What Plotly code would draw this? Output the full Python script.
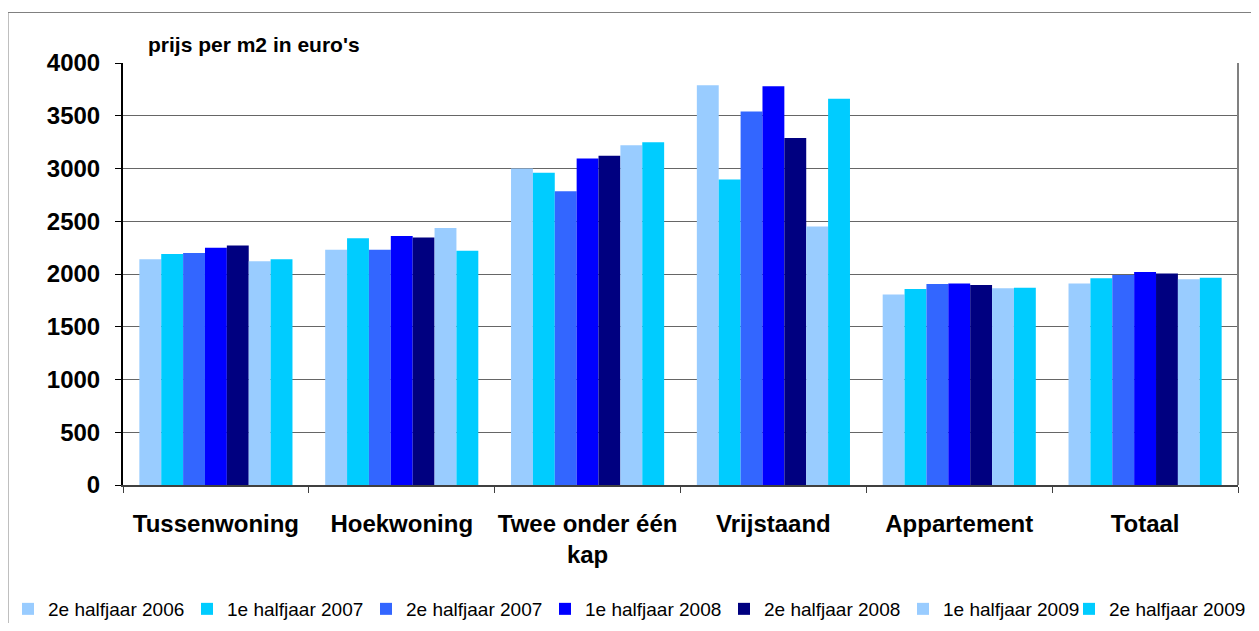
import plotly.graph_objects as go

categories = ["Tussenwoning", "Hoekwoning", "Twee onder één<br>kap", "Vrijstaand", "Appartement", "Totaal"]
series_names = ["2e halfjaar 2006", "1e halfjaar 2007", "2e halfjaar 2007", "1e halfjaar 2008",
                "2e halfjaar 2008", "1e halfjaar 2009", "2e halfjaar 2009"]
s_2006_2 = [2140, 2230, 3000, 3790, 1805, 1910]
s_2007_1 = [2190, 2340, 2960, 2895, 1858, 1960]
s_2007_2 = [2200, 2230, 2785, 3540, 1905, 1990]
s_2008_1 = [2250, 2360, 3095, 3780, 1910, 2020]
s_2008_2 = [2270, 2345, 3120, 3290, 1895, 2005]
s_2009_1 = [2120, 2435, 3220, 2450, 1865, 1950]
s_2009_2 = [2140, 2220, 3250, 3660, 1870, 1965]
series_values = [s_2006_2, s_2007_1, s_2007_2, s_2008_1, s_2008_2, s_2009_1, s_2009_2]
colors = ["#99CCFF", "#00CCFF", "#3366FF", "#0000FF", "#000080", "#99CCFF", "#00CCFF"]
y_ticks = [0, 500, 1000, 1500, 2000, 2500, 3000, 3500, 4000]

FONT = "Arial, 'Liberation Sans', sans-serif"

fig = go.Figure()
for i, (name, vals, col) in enumerate(zip(series_names, series_values, colors)):
    fig.add_trace(go.Bar(x=categories, y=vals, name=name,
                         legend="legend" if i < len(series_names) - 1 else "legend2",
                         marker=dict(color=col, line=dict(width=0))))

# page body has an 8px margin on every side, so the figure is 16px smaller and offset by 8px
W, H = 1243, 615
legend_common = dict(orientation="h", xref="container", yref="container",
                     y=(H - 601) / H, yanchor="middle",
                     font=dict(size=19, family=FONT),
                     itemwidth=30, bgcolor="rgba(0,0,0,0)", tracegroupgap=0)
fig.update_layout(
    width=W, height=H,
    margin=dict(l=115, r=13, t=55, b=138, autoexpand=False),
    paper_bgcolor="white", plot_bgcolor="white",
    barmode="group", bargap=0.176, bargroupgap=0,
    font=dict(family=FONT, color="black"),
    showlegend=True,
    legend=dict(x=0.0, xanchor="left", entrywidth=134, entrywidthmode="pixels", **legend_common),
    legend2=dict(x=1.0, xanchor="right", **legend_common),
    xaxis=dict(type="category", showline=True, linecolor="#404040", linewidth=2,
               ticks="outside", ticklen=6, tickcolor="#404040", tickson="boundaries",
               tickangle=0,
               tickfont=dict(size=24, family=FONT, weight="bold", color="black"),
               ticklabelstandoff=16, showgrid=False, zeroline=False),
    yaxis=dict(range=[0, 4000], tickvals=y_ticks, ticktext=[str(v) for v in y_ticks],
               showline=True, linecolor="black", linewidth=2,
               ticks="outside", ticklen=6, tickcolor="black",
               tickfont=dict(size=24, family=FONT, weight="bold", color="black"),
               ticklabelstandoff=10,
               showgrid=True, gridcolor="#666666", gridwidth=1, zeroline=False),
    annotations=[dict(text="prijs per m2 in euro's", xref="paper", yref="paper",
                      x=(146 - 123) / 1115, y=(485 - 45) / 422, xanchor="left", yanchor="middle",
                      showarrow=False, font=dict(size=21, family=FONT, weight="bold", color="black"))],
    shapes=[
        dict(type="rect", xref="paper", yref="paper",
             x0=(8 - 123) / 1115, x1=(1265 - 123) / 1115,
             y0=(485 - 640) / 422, y1=(485 - 12.5) / 422,
             line=dict(color="#808080", width=1), layer="below"),
        dict(type="line", xref="paper", yref="paper", x0=1, x1=1, y0=0, y1=1,
             line=dict(color="#808080", width=2)),
    ],
)

fig.write_html("out.html")
